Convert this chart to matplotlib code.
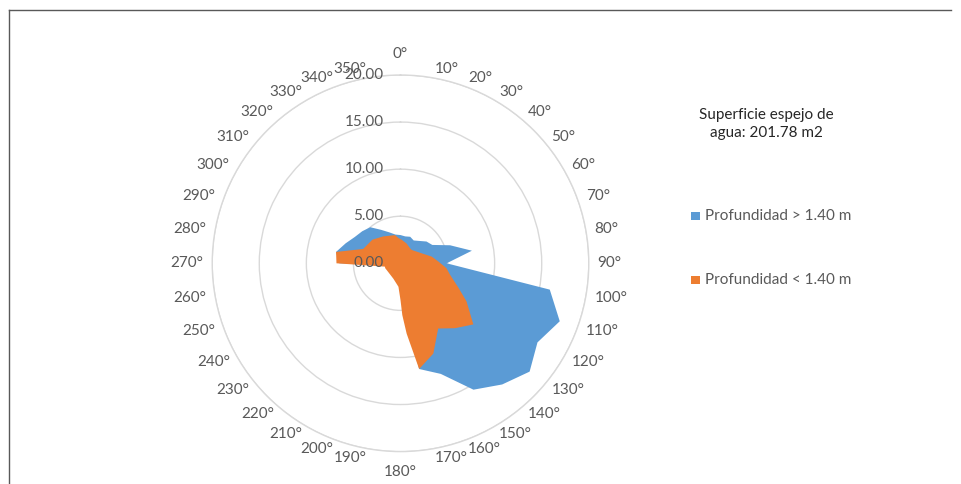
import numpy as np
import matplotlib
matplotlib.use("Agg")
import matplotlib.pyplot as plt
from matplotlib import transforms
from matplotlib.lines import Line2D
from matplotlib.patches import Rectangle

# ---------------- data ----------------
category_labels = [f"{a}°" for a in range(0, 360, 10)]
category_angles = list(range(0, 360, 10))

series_names = ["Profundidad > 1.40 m", "Profundidad < 1.40 m"]

# Profundidad > 1.40 m (one value per category, 10° steps)
blue_angles = list(range(0, 360, 10))
blue_values = [3.0, 2.9, 3.0, 2.8, 3.1, 3.6, 3.9, 5.6, 7.7, 4.9,
               16.1, 18.0, 16.8, 17.9, 16.8, 15.5, 12.5, 11.4, 3.0, 1.5,
               1.3, 1.3, 1.3, 1.3, 1.3, 1.3, 1.3, 6.5, 6.95, 6.2,
               5.6, 5.3, 5.0, 4.1, 3.5, 3.1]

# Profundidad < 1.40 m (vertices)
orange_angles = [3, 17, 32, 40, 65, 78, 87, 96, 103, 113, 120, 130, 140, 150,
                 160, 170, 175, 178, 180, 185, 205, 235, 252, 258, 270, 280,
                 291, 310, 327, 349, 355]
orange_values = [2.5, 2.2, 1.9, 1.85, 2.5, 3.4, 4.0, 4.9, 5.4, 6.7, 8.1, 10.1, 9.0, 8.0,
                 10.2, 11.4, 7.5, 5.5, 3.9, 2.5, 1.8, 1.6, 1.7, 1.7, 6.8, 6.95,
                 4.25, 3.9, 3.4, 3.05, 2.7]

radial_ticks = [0, 5, 10, 15, 20]
radial_labels = ["0.00", "5.00", "10.00", "15.00", "20.00"]

title_text = "Superficie espejo de\nagua: 201.78 m2"

colors = ["#5B9BD5", "#ED7D31"]
grid_color = "#D9D9D9"
text_gray = "#595959"

plt.rcParams['font.family'] = ['Lato', 'DejaVu Sans']

W, H = 961, 484
fig = plt.figure(figsize=(W / 100, H / 100), dpi=100)

cx, cy, R = 400.5, 263.3, 188.3
ax = fig.add_axes([(cx - R) / W, (H - cy - R) / H, 2 * R / W, 2 * R / H],
                  projection='polar')
ax.set_theta_zero_location('N')
ax.set_theta_direction(-1)
ax.set_ylim(0, 20)
ax.set_xticks([])
ax.set_yticks([5, 10, 15, 20])
ax.set_yticklabels([])
ax.yaxis.grid(True, color=grid_color, linewidth=1.0)
ax.spines['polar'].set_color(grid_color)
ax.spines['polar'].set_linewidth(1.0)
ax.set_facecolor('none')

ax.fill(np.deg2rad(blue_angles), blue_values, color=colors[0], lw=0, zorder=3)
ax.fill(np.deg2rad(orange_angles), orange_values, color=colors[1], lw=0, zorder=4)

fs = 11.0
# radial value labels
off = transforms.offset_copy(ax.transData, fig=fig, x=-17, y=0, units='dots')
for v, lab in zip(radial_ticks, radial_labels):
    ax.text(0, v, lab, transform=off, ha='right', va='center',
            fontsize=fs, color=text_gray, zorder=6)

# category labels
for a, lab in zip(category_angles, category_labels):
    th = np.deg2rad(a)
    if a in (0, 180):
        ax.text(th, 22.2, lab, ha='center', va='center', fontsize=fs, color=text_gray)
    else:
        ha = 'left' if a < 180 else 'right'
        ax.text(th, 20.95, lab, ha=ha, va='center', fontsize=fs, color=text_gray)

# title
fig.text(766 / W, 1 - 124 / H, title_text, ha='center', va='center',
         fontsize=fs, color='#262626', linespacing=1.45)

# legend
for i, (name, col) in enumerate(zip(series_names, colors)):
    yc = 216 + i * 64
    fig.add_artist(Rectangle(((691) / W, 1 - (yc + 4.3) / H), 8.6 / W, 8.6 / H,
                             transform=fig.transFigure, color=col, lw=0))
    fig.text(705 / W, 1 - yc / H, name, ha='left', va='center',
             fontsize=fs, color=text_gray)

# chart area border (top and left)
fig.add_artist(Line2D([8.5 / W, 951 / W], [1 - 10 / H, 1 - 10 / H],
                      transform=fig.transFigure, color='#595959', lw=1.0))
fig.add_artist(Line2D([8.5 / W, 8.5 / W], [1 - 10 / H, 0],
                      transform=fig.transFigure, color='#595959', lw=1.0))

fig.savefig("out.png", dpi=100)
